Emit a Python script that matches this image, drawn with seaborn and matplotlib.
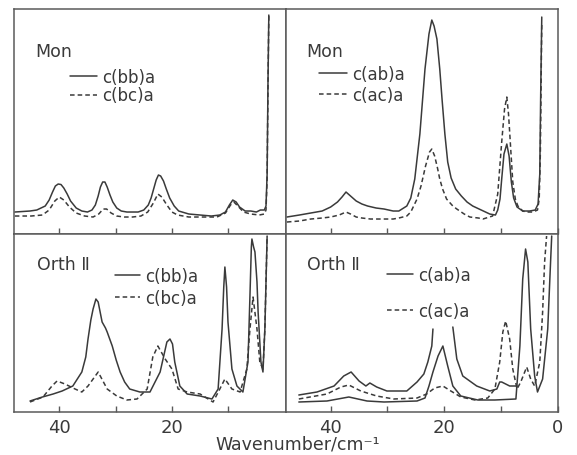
import numpy as np
import pandas as pd
import seaborn as sns
import matplotlib.pyplot as plt

# ---- spectra (wavenumber / cm-1, intensity in arbitrary units) ----
# Mon, c(bb)a  (solid) and c(bc)a (dashed)
mon_bb_wn = [47.9, 45.2, 44.0, 42.5, 41.8, 41.2, 40.7, 40.2, 39.7, 39.2, 38.6, 38.0, 37.0, 36.0, 35.0,
             34.2, 33.6, 33.1, 32.7, 32.3, 31.9, 31.5, 31.0, 30.5, 29.8, 29.0, 28.0, 27.0, 26.0, 25.0,
             24.2, 23.7, 23.2, 22.8, 22.4, 22.0, 21.5, 21.0, 20.4, 19.6, 18.8, 17.0, 15.0, 13.0, 11.5,
             10.5, 9.8, 9.2, 8.6, 8.0, 7.0, 6.0, 5.0, 4.3, 3.6, 3.3, 3.1, 2.95, 2.8]
mon_bb_int = [22, 23, 24, 28, 34, 42, 48, 50, 49.5, 46, 40, 33, 26, 23, 22,
              24, 29, 38, 47, 52, 52, 47, 39, 32, 26, 23, 22, 22, 22, 24,
              29, 36, 46, 54, 59, 58, 53, 45, 36, 28, 23, 20, 19, 18, 19,
              22, 29, 34, 32, 27, 23, 23, 22, 24, 24, 28, 60, 150, 219]
mon_bc_wn = [47.9, 45.0, 43.0, 41.8, 40.8, 40.0, 39.2, 38.2, 37.0, 35.5, 34.0, 33.0, 32.2, 31.6, 30.8,
             29.8, 28.5, 27.0, 25.5, 24.3, 23.3, 22.5, 21.8, 20.9, 20.0, 19.0, 17.0, 14.0, 12.0, 10.5,
             9.6, 9.0, 8.3, 7.3, 6.0, 4.5, 3.6, 3.3, 3.1, 2.95, 2.8]
mon_bc_int = [18, 18, 19, 24, 33, 37, 34, 27, 21, 18, 17, 20, 25, 25, 21,
              18, 17, 17, 18, 22, 31, 40, 37, 29, 22, 19, 17, 17, 17, 21,
              29, 32, 28, 22, 20, 19, 20, 24, 55, 145, 218]

# Mon, c(ab)a (solid) and c(ac)a (dashed)
mon_ab_wn = [47.7, 45.5, 43.5, 41.5, 40.0, 38.8, 38.0, 37.3, 36.5, 35.5, 34.5, 33.5, 32.0, 30.6, 29.0,
             28.0, 26.6, 25.9, 25.2, 24.3, 23.4, 22.7, 22.2, 21.8, 21.3, 20.8, 20.4, 19.9, 19.4, 18.8,
             18.0, 17.0, 16.0, 15.0, 13.5, 12.0, 11.0, 10.6, 10.2, 9.9, 9.5, 9.0, 8.6, 8.2, 7.8, 7.2,
             6.2, 5.0, 4.0, 3.5, 3.2, 3.05, 2.85]
mon_ab_int = [17, 19, 21, 23, 27, 32, 37, 42, 38, 33, 30, 28, 26, 25, 23,
              23, 28, 36, 55, 100, 165, 200, 214, 208, 195, 165, 135, 100, 72, 56,
              45, 38, 32, 28, 24, 20, 19, 24, 35, 55, 80, 90, 78, 52, 36, 27,
              23, 23, 24, 30, 60, 135, 217]
mon_ac_wn = [47.7, 45.5, 43.5, 41.5, 40.0, 38.5, 37.3, 36.5, 35.5, 34.5, 33.0, 31.0, 29.0, 28.0, 26.6,
             25.9, 24.8, 24.1, 23.3, 22.6, 22.2, 21.7, 21.2, 20.8, 20.3, 19.6, 18.5, 17.8, 16.5, 15.5,
             14.0, 13.2, 11.5, 10.6, 9.9, 9.4, 9.0, 8.7, 8.5, 7.95, 7.5, 7.05, 6.2, 5.5, 4.4, 3.6,
             3.3, 3.1, 2.95, 2.85]
mon_ac_int = [12, 13, 15, 16, 17, 19, 22, 20, 17, 16, 15, 15, 15, 16, 18,
              22, 35, 48, 68, 82, 85, 78, 66, 55, 45, 35, 28, 25, 20, 17,
              16, 15, 18, 40, 92, 125, 137, 120, 102, 52, 35, 28, 23, 22, 22, 24,
              35, 80, 160, 210]

# Orth II, c(bb)a (solid) and c(bc)a (dashed)
orth_bb_wn = [45.2, 43.0, 41.1, 39.5, 37.6, 36.0, 35.3, 34.9, 34.4, 34.0, 33.5, 33.1, 32.4, 31.8, 31.5,
              30.6, 29.9, 29.2, 28.4, 27.5, 25.7, 23.9, 22.1, 20.9, 20.35, 19.9, 19.5, 18.6, 17.3, 15.0,
              12.9, 11.8, 11.1, 10.8, 10.6, 10.3, 10.05, 9.35, 8.46, 7.4, 6.5, 6.15, 5.9, 5.8, 5.5,
              5.26, 4.9, 4.7, 4.2, 3.84, 3.5, 3.1]
orth_bb_int = [11, 15, 18, 21, 26, 40, 55, 73, 92, 103, 113, 110, 90, 84, 80,
               66, 52, 40, 30, 23, 20, 20, 40, 70, 73, 68, 50, 26, 18, 16,
               13, 23, 83, 125, 145, 125, 90, 43, 26, 20, 50, 116, 165, 173, 165,
               160, 130, 100, 50, 40, 83, 176]
orth_bc_wn = [45.2, 42.9, 41.3, 40.4, 39.0, 37.2, 36.0, 34.9, 33.1, 31.5, 29.8, 28.0, 26.2, 24.4, 23.4,
              22.5, 21.2, 20.0, 18.9, 17.3, 15.0, 12.7, 11.5, 10.6, 9.35, 7.9, 6.7, 6.15, 5.6, 4.9,
              4.4, 3.84, 3.5, 3.1]
orth_bc_int = [10, 15, 26, 31, 28, 23, 20, 26, 40, 23, 16, 12, 13, 23, 55,
               66, 53, 43, 23, 20, 18, 10, 23, 33, 23, 20, 43, 83, 115, 83,
               50, 43, 83, 176]

# Orth II, c(ab)a (solid, two gains) and c(ac)a (dashed)
orth_ab_hi_wn = [45.6, 42.4, 39.4, 37.7, 36.4, 35.0, 33.8, 33.1, 31.9, 30.1, 26.6, 24.8, 23.6, 22.9,
                 22.2, 22.0, 18.5, 17.8, 16.75, 14.3, 12.0, 10.75, 10.25, 9.9, 8.5, 7.2]
orth_ab_hi_int = [17, 20, 26, 36, 40, 31, 26, 29, 25, 21, 21, 30, 38, 50,
                  66, 83, 85, 53, 36, 26, 21, 23, 30, 30, 26, 26]
orth_ab_hi_seg = [0] * 16 + [1] * 10
orth_ab_wn = [45.6, 40.65, 36.8, 33.6, 30.6, 24.8, 23.4, 22.7, 22.0, 21.1, 20.25, 19.4, 18.5, 17.1, 14.1,
              11.1, 7.4, 6.7, 6.2, 5.7, 5.3, 4.8, 4.1, 3.6, 2.7, 1.8, 1.3, 1.1]
orth_ab_int = [10, 11, 15, 11, 10, 11, 14, 26, 40, 56, 66, 46, 26, 16, 12,
               12, 13, 66, 133, 163, 150, 83, 36, 20, 33, 83, 150, 176]
orth_ac_wn = [45.6, 40.65, 38.2, 36.8, 34.7, 31.9, 28.9, 24.8, 23.1, 21.7, 20.25, 18.85, 17.1, 14.6, 12.35,
              11.1, 10.25, 9.7, 9.2, 8.5, 7.95, 7.2, 6.55, 5.5, 4.8, 4.1, 3.2, 2.7, 2.35, 2.0]
orth_ac_int = [13, 18, 25, 27, 21, 16, 13, 14, 18, 24, 26, 21, 15, 12, 14,
               23, 50, 80, 91, 73, 43, 23, 30, 45, 33, 26, 50, 100, 150, 176]

phase_labels = ["Mon", "Mon", "Orth \u2161", "Orth \u2161"]
x_label = "Wavenumber/cm\u207b\u00b9"

ink = "#3a3a3a"
frame = "#5a5a5a"
dash = (0, (3.0, 2.0))

sns.set_style("white")
plt.rcParams["font.family"] = ["DejaVu Sans"]
plt.rcParams["text.color"] = ink

fig = plt.figure(figsize=(5.77, 4.56), dpi=100)
gs = fig.add_gridspec(2, 2, left=0.0243, right=0.967, top=0.978, bottom=0.0943,
                      hspace=0, wspace=0, height_ratios=[225, 178])
axes = [fig.add_subplot(gs[i, j]) for i in range(2) for j in range(2)]


def line(ax, wn, inten, ls="-", label=None):
    df = pd.DataFrame({"wn": wn, "I": inten})
    sns.lineplot(data=df, x="wn", y="I", ax=ax, color=ink, lw=1.1, linestyle=ls,
                 estimator=None, sort=False, label=label)


ax = axes[0]
line(ax, mon_bb_wn, mon_bb_int, "-", "c(bb)a")
line(ax, mon_bc_wn, mon_bc_int, dash, "c(bc)a")
ax = axes[1]
line(ax, mon_ab_wn, mon_ab_int, "-", "c(ab)a")
line(ax, mon_ac_wn, mon_ac_int, dash, "c(ac)a")
ax = axes[2]
line(ax, orth_bb_wn, orth_bb_int, "-", "c(bb)a")
line(ax, orth_bc_wn, orth_bc_int, dash, "c(bc)a")
ax = axes[3]
line(ax, orth_ab_wn, orth_ab_int, "-", "c(ab)a")
line(ax, orth_ac_wn, orth_ac_int, dash, "c(ac)a")
hi = pd.DataFrame({"wn": orth_ab_hi_wn, "I": orth_ab_hi_int, "seg": orth_ab_hi_seg})
sns.lineplot(data=hi, x="wn", y="I", units="seg", ax=ax, color=ink, lw=1.1,
             estimator=None, sort=False)

legend_pos = [(0.206, 0.740, 0.05, 1.6), (0.121, 0.752, 0.2, 1.7),
              (0.371, 0.815, 0.25, 1.5), (0.371, 0.820, 1.05, 1.55)]
label_pos = [(0.077, 0.813), (0.074, 0.813), (0.085, 0.831), (0.077, 0.831)]

for k, ax in enumerate(axes):
    top = k < 2
    ax.set_ylim(0, 225 if top else 178)
    if k % 2 == 0:
        ax.set_xlim(48.04, -0.25)
        ax.set_xticks([40, 20])
    else:
        ax.set_xlim(47.86, 0)
        ax.set_xticks([40, 20, 0])
    ax.set_xticks([30, 10], minor=True)
    ax.set_xticklabels([str(t) for t in ax.get_xticks()])
    ax.set_yticks([])
    ax.set_xlabel("")
    ax.set_ylabel("")
    ax.tick_params(axis="x", which="both", direction="in", length=4, width=1,
                   color=frame, labelcolor=ink, labelsize=13, pad=4,
                   bottom=True, top=False, labelbottom=not top)
    for s in ax.spines.values():
        s.set_color(frame)
        s.set_linewidth(1.1)
    lx, ly = label_pos[k]
    ax.text(lx, ly, phase_labels[k], transform=ax.transAxes, ha="left", va="center",
            fontsize=12.5, color=ink)
    bx, by, sp, hl = legend_pos[k]
    ax.legend(loc="upper left", bbox_to_anchor=(bx, by), frameon=False, fontsize=12,
              handlelength=hl, handletextpad=0.3, labelspacing=sp, borderpad=0,
              borderaxespad=0, labelcolor=ink)

fig.text(0.516, 0.026, x_label, ha="center", va="center", fontsize=12.5, color=ink)

fig.savefig("out.png", dpi=100)
